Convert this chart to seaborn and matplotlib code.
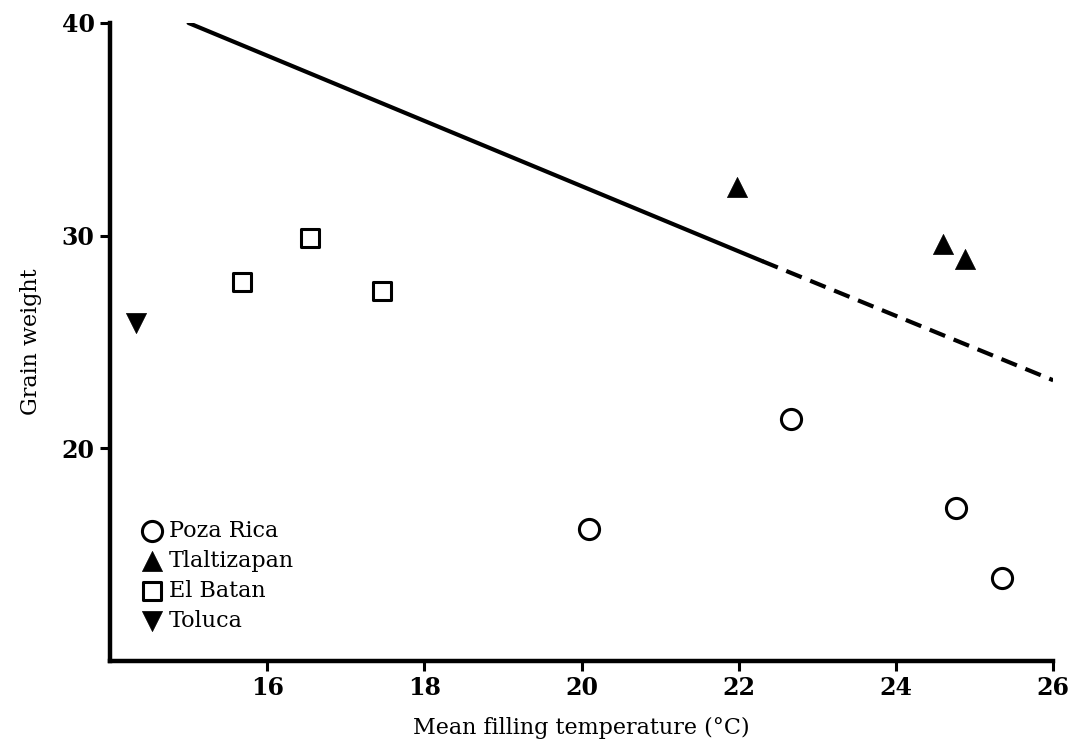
import matplotlib
matplotlib.use("Agg")
import matplotlib.pyplot as plt
import seaborn as sns

# Values
poza_temp = [20.1, 22.66, 24.76, 25.35]
poza_weight = [16.2, 21.4, 17.2, 13.9]
tlal_temp = [21.98, 24.6, 24.88]
tlal_weight = [32.3, 29.6, 28.9]
batan_temp = [15.68, 16.55, 17.46]
batan_weight = [27.8, 29.9, 27.4]
toluca_temp = [14.33]
toluca_weight = [25.9]

# Fitted line: solid over observed range, dashed extrapolation
fit_solid_x = [15.0, 22.3]
fit_solid_y = [40.0, 28.8]
fit_dash_x = [22.3, 26.0]
fit_dash_y = [28.8, 23.2]

xticks = [16, 18, 20, 22, 24, 26]
yticks = [20, 30, 40]

sns.set_style("ticks")
plt.rcParams["font.family"] = ["DejaVu Serif"]
plt.rcParams["text.color"] = "black"
plt.rcParams["axes.labelcolor"] = "black"
plt.rcParams["xtick.color"] = "black"
plt.rcParams["ytick.color"] = "black"

fig = plt.figure(figsize=(10.78, 7.44), dpi=100)
ax = fig.add_axes([0.102, 0.1116, 0.875, 0.8575])

sns.lineplot(x=fit_solid_x, y=fit_solid_y, color="black", linewidth=3, ax=ax)
sns.lineplot(x=fit_dash_x, y=fit_dash_y, color="black", linewidth=3,
             linestyle=(0, (4, 2.2)), ax=ax)

sns.scatterplot(x=poza_temp, y=poza_weight, marker="o", s=210, color="black",
                facecolor="white", edgecolor="black", linewidth=2.2,
                label="Poza Rica", ax=ax, zorder=3)
sns.scatterplot(x=tlal_temp, y=tlal_weight, marker="^", s=210, color="black",
                edgecolor="black", linewidth=0.5, label="Tlaltizapan", ax=ax, zorder=3)
sns.scatterplot(x=batan_temp, y=batan_weight, marker="s", s=150, color="black",
                facecolor="white", edgecolor="black", linewidth=2.2,
                label="El Batan", ax=ax, zorder=3)
sns.scatterplot(x=toluca_temp, y=toluca_weight, marker="v", s=210, color="black",
                edgecolor="black", linewidth=0.5, label="Toluca", ax=ax, zorder=3)

ax.set_xlim(14, 26)
ax.set_ylim(10, 40)
ax.set_xticks(xticks)
ax.set_yticks(yticks)
ax.set_xticklabels([str(t) for t in xticks], fontsize=17, fontweight="bold")
ax.set_yticklabels([str(t) for t in yticks], fontsize=17, fontweight="bold")
ax.tick_params(axis="both", direction="out", length=7, width=2.2, color="black", pad=4)

sns.despine(ax=ax)
for side in ["left", "bottom"]:
    ax.spines[side].set_linewidth(3.2)
    ax.spines[side].set_color("black")

ax.set_xlabel("Mean filling temperature (°C)", fontsize=16, labelpad=12)
ax.set_ylabel("Grain weight", fontsize=16, labelpad=14)

ax.legend(loc="upper left", bbox_to_anchor=(0.033, 0.221), frameon=False,
          fontsize=16, borderpad=0, borderaxespad=0, handlelength=1.0,
          handletextpad=0.25, labelspacing=0.36, scatterpoints=1)

fig.savefig("out.png", dpi=100)
